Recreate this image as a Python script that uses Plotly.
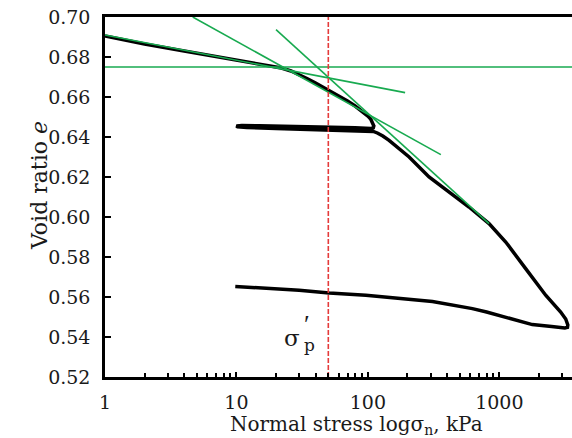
import numpy as np
import plotly.graph_objects as go

# ---- data ----
curve_x = [1, 2, 4, 7, 12, 18, 22, 26, 30, 35, 40, 50, 60, 70, 80, 90, 100, 105, 109, 111, 110, 106,
           80, 50, 30, 15, 11, 10, 10.2, 12, 20, 50, 80, 100, 110, 118, 130,
           145, 206, 292, 415, 588, 835, 1119, 1587, 2253, 2930, 3200, 3320, 3300, 3150, 3000,
           2500, 1782, 1119, 800, 624, 310, 96.6, 50.8, 30, 9.8]
curve_e = [0.6905, 0.6865, 0.6830, 0.6802, 0.6777, 0.6758, 0.6745, 0.6730, 0.6712, 0.6690, 0.6670, 0.6635, 0.6605, 0.6580, 0.6555, 0.6530, 0.6505, 0.6490, 0.6472, 0.6455, 0.6446, 0.6443,
           0.6446, 0.6450, 0.6453, 0.6456, 0.6457, 0.6455, 0.6451, 0.6448, 0.6443, 0.6437, 0.6433, 0.6431, 0.6428, 0.6420, 0.6405,
           0.6383, 0.6300, 0.6200, 0.6125, 0.6050, 0.5967, 0.5875, 0.5742, 0.5609, 0.5525, 0.5490, 0.5460, 0.5448, 0.5445, 0.5446,
           0.5452, 0.5462, 0.5500, 0.5525, 0.5542, 0.5577, 0.5609, 0.5620, 0.5634, 0.5653]

line_a_x = [4.65, 359]
line_a_e = [0.700, 0.6312]
line_b_x = [20, 835]
line_b_e = [0.6937, 0.5967]
line_c_x = [1, 192]
line_c_e = [0.691, 0.6622]
horiz_e = 0.675
horiz_x = [1, 4000]
sigma_p = 50

x_major = [1, 10, 100, 1000]
x_minor = [m * d for d in [1, 10, 100, 1000] for m in range(2, 10)]
y_ticks = [round(0.52 + 0.02 * i, 2) for i in range(10)]

W, H = 572, 438
L, T, B, R = 105, 17, 61, 0
FONT = "DejaVu Serif"
GREEN = "#18aa50"

fig = go.Figure()
fig.add_trace(go.Scatter(x=curve_x, y=curve_e, mode="lines",
                         line=dict(color="black", width=3.5),
                         showlegend=False))
for xs, es in [(line_a_x, line_a_e), (line_b_x, line_b_e), (line_c_x, line_c_e), (horiz_x, [horiz_e, horiz_e])]:
    fig.add_trace(go.Scatter(x=xs, y=es, mode="lines", line=dict(color=GREEN, width=1.6),
                             showlegend=False, hoverinfo="skip"))
fig.add_trace(go.Scatter(x=[sigma_p, sigma_p], y=[0.52, 0.70], mode="lines",
                         line=dict(color="#e53b3b", width=1.6, dash="5px,2px"),
                         showlegend=False, hoverinfo="skip"))

fig.update_layout(
    width=W, height=H, margin=dict(l=L, r=R, t=T, b=B),
    paper_bgcolor="white", plot_bgcolor="white",
    font=dict(family=FONT, size=19, color="#1a1a1a"),
    showlegend=False,
)
fig.update_xaxes(type="log", range=[0, 3.553], tickvals=x_major, ticktext=[str(v) for v in x_major],
                 ticks="inside", ticklen=5, tickwidth=1.5, tickcolor="black",
                 showline=True, linecolor="black", linewidth=2.5, mirror=True,
                 showgrid=False, zeroline=False, ticklabelstandoff=6, automargin=False,
                 minor=dict(tickvals=x_minor, ticks="inside", ticklen=4, tickwidth=1.5, tickcolor="black", showgrid=False))
fig.update_yaxes(range=[0.52, 0.70], tickvals=y_ticks, ticktext=[f"{v:.2f}" for v in y_ticks],
                 ticks="inside", ticklen=6, tickwidth=2, tickcolor="black",
                 showline=True, linecolor="black", linewidth=2.5, automargin=False,
                 showgrid=False, zeroline=False, ticklabelstandoff=8)

pw = W - L - R
ph = H - T - B
def px2paper(px, py):
    return (px - L) / pw, (H - B - py) / ph

xt, yt = px2paper(356, 425)
fig.add_annotation(x=xt, y=yt, xref="paper", yref="paper", showarrow=False, xanchor="center", yanchor="middle",
                   text="Normal stress logσ<sub>n</sub>, kPa", font=dict(size=20))
xt, yt = px2paper(39, 186)
fig.add_annotation(x=xt, y=yt, xref="paper", yref="paper", showarrow=False, textangle=-90,
                   xanchor="center", yanchor="middle",
                   text="Void ratio\u00a0<i>e</i>", font=dict(size=22))
# sigma'_p label
fig.add_annotation(x=np.log10(sigma_p), y=0.5395, xref="x", yref="y", showarrow=False,
                   text="σ", font=dict(size=23), xanchor="right", yanchor="middle", xshift=-26)
fig.add_annotation(x=np.log10(sigma_p), y=0.5465, xref="x", yref="y", showarrow=False,
                   text="′", font=dict(size=26, family="Liberation Serif"), xanchor="right", yanchor="middle", xshift=-16)
fig.add_annotation(x=np.log10(sigma_p), y=0.5362, xref="x", yref="y", showarrow=False,
                   text="p", font=dict(size=17), xanchor="right", yanchor="middle", xshift=-11)

fig.write_html("out.html", config={"displayModeBar": False},
               post_script="document.body.style.margin='0px';")
